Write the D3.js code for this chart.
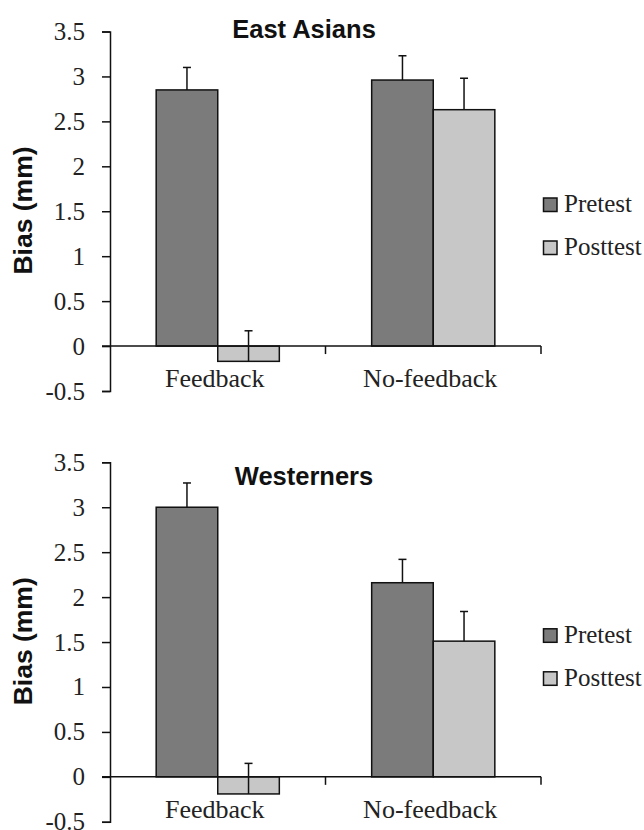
<!DOCTYPE html>
<html lang="en">
<head>
<meta charset="utf-8">
<title>Bias pretest / posttest</title>
<script src="https://d3js.org/d3.v7.min.js"></script>
<style>
  body { margin: 0; background: #fff; }
  svg { display: block; }
  .cat { font-family: "Liberation Serif", "Times New Roman", serif; font-size: 26px; fill: #222; }
  .leg { font-family: "Liberation Serif", "Times New Roman", serif; font-size: 25px; fill: #222; }
  .title, .ylab { font-family: "Liberation Sans", Arial, sans-serif; font-weight: bold; fill: #111; }
</style>
</head>
<body>
<div id="chart"></div>
<script>
"use strict";
var categories = ["Feedback", "No-feedback"];
var series = ["Pretest", "Posttest"];
var yTicks = [-0.5, 0, 0.5, 1, 1.5, 2, 2.5, 3, 3.5];

// East Asians
var eastPre = [2.85, 2.96];
var eastPreErr = [0.25, 0.27];
var eastPost = [-0.17, 2.63];
var eastPostErr = [0.34, 0.35];

// Westerners
var westPre = [3.00, 2.16];
var westPreErr = [0.27, 0.26];
var westPost = [-0.19, 1.51];
var westPostErr = [0.34, 0.33];

var colors = ["#7b7b7b", "#c6c7c6"];

var svg_width = 644;
var svg_height = 830;
var left = 110, right = 541;
var plot_h = 359.5;

var svg = d3.select("#chart").append("svg")
    .attr("width", svg_width)
    .attr("height", svg_height);

function drawPanel(top, title, titleY, pre, preErr, post, postErr)
{
    var g = svg.append("g");
    var y = d3.scaleLinear().domain([-0.5, 3.5]).range([top + plot_h, top]);
    var x0 = d3.scaleBand().domain(categories).range([left, right]);
    var x1 = d3.scaleBand().domain(series).range([0, x0.bandwidth()]).paddingOuter(0.75);

    var rows = categories.map(function(c, i) {
        return [
            {cat: c, s: series[0], v: pre[i], e: preErr[i]},
            {cat: c, s: series[1], v: post[i], e: postErr[i]}
        ];
    });

    // y axis
    var yAxis = d3.axisLeft(y).tickValues(yTicks).tickSize(8).tickPadding(17)
        .tickFormat(function(d) { return d === -0.5 ? "-0.5" : String(d); });
    var ya = g.append("g").attr("transform", "translate(" + left + ",0)").call(yAxis)
        .attr("font-family", "'Liberation Serif', 'Times New Roman', serif")
        .attr("font-size", 25);
    ya.select(".domain").attr("stroke", "#111").attr("stroke-width", 1.5);
    ya.selectAll(".tick line").attr("stroke", "#111").attr("stroke-width", 1.5);
    ya.selectAll(".tick text").attr("fill", "#222");

    // bars
    var flat = [].concat.apply([], rows);
    g.selectAll("rect.bar").data(flat).enter().append("rect")
        .attr("class", "bar")
        .attr("x", function(d) { return x0(d.cat) + x1(d.s); })
        .attr("width", x1.bandwidth())
        .attr("y", function(d) { return y(Math.max(0, d.v)); })
        .attr("height", function(d) { return Math.abs(y(d.v) - y(0)); })
        .attr("fill", function(d) { return colors[series.indexOf(d.s)]; })
        .attr("stroke", "#111")
        .attr("stroke-width", 1.5);

    // error bars (upper only)
    var cap = 4;
    flat.forEach(function(d) {
        var cx = x0(d.cat) + x1(d.s) + x1.bandwidth() / 2;
        g.append("line").attr("x1", cx).attr("x2", cx)
            .attr("y1", y(d.v)).attr("y2", y(d.v + d.e))
            .attr("stroke", "#111").attr("stroke-width", 1.5);
        g.append("line").attr("x1", cx - cap).attr("x2", cx + cap)
            .attr("y1", y(d.v + d.e)).attr("y2", y(d.v + d.e))
            .attr("stroke", "#111").attr("stroke-width", 1.5);
    });

    // x axis at zero
    var y0 = y(0);
    g.append("line").attr("x1", left - 8).attr("x2", right)
        .attr("y1", y0).attr("y2", y0)
        .attr("stroke", "#111").attr("stroke-width", 1.5);
    categories.forEach(function(c) {
        var xe = x0(c) + x0.bandwidth();
        g.append("line").attr("x1", xe).attr("x2", xe)
            .attr("y1", y0).attr("y2", y0 + 8)
            .attr("stroke", "#111").attr("stroke-width", 1.5);
    });
    g.selectAll("text.cat").data(categories).enter().append("text")
        .attr("class", "cat")
        .attr("x", function(c) { return x0(c) + x0.bandwidth() / 2 - 3; })
        .attr("y", y0 + 41)
        .attr("text-anchor", "middle")
        .text(function(c) { return c; });

    // title
    g.append("text").attr("class", "title")
        .attr("x", 304).attr("y", titleY)
        .attr("text-anchor", "middle")
        .style("font-size", "25.5px")
        .text(title);

    // y label
    g.append("text").attr("class", "ylab")
        .attr("transform", "translate(32," + (top + 179) + ") rotate(-90)")
        .attr("text-anchor", "middle")
        .style("font-size", "26.5px")
        .text("Bias (mm)");

    // legend
    series.forEach(function(s, i) {
        var ly = top + 166.5 + i * 43;
        g.append("rect").attr("x", 543.5).attr("y", ly)
            .attr("width", 13.5).attr("height", 13.5)
            .attr("fill", colors[i]).attr("stroke", "#111").attr("stroke-width", 1.5);
        g.append("text").attr("class", "leg")
            .attr("x", 564).attr("y", ly + 14)
            .text(s);
    });
}

drawPanel(31.5, "East Asians", 38, eastPre, eastPreErr, eastPost, eastPostErr);
drawPanel(462.3, "Westerners", 485, westPre, westPreErr, westPost, westPostErr);
</script>
</body>
</html>
